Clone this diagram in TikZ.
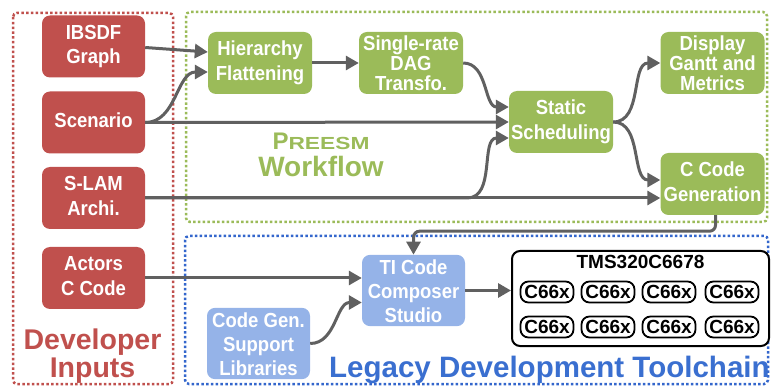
\documentclass[tikz,border=0pt]{standalone}
\usepackage{fontspec}
\setmainfont{Liberation Sans}
\usetikzlibrary{arrows.meta}
\definecolor{dred}{HTML}{C0504D}
\definecolor{dgreen}{HTML}{9BBB59}
\definecolor{lblue}{HTML}{95B3E8}
\definecolor{tblue}{HTML}{3A6FD0}
\definecolor{dblue}{HTML}{3366CC}
\definecolor{agray}{HTML}{606060}
\newcommand\stxt[1]{\scalebox{1}[1.1]{\begin{tabular}{@{}c@{}}#1\end{tabular}}}
\newcommand\stxtt[1]{\raisebox{-3pt}[\height][\depth]{\stxt{#1}}}
\tikzset{
  box/.style={rounded corners=8pt, text=white, align=center, inner sep=0pt,
    font=\bfseries\fontsize{18.5}{22.7}\selectfont},
  redn/.style={box, fill=dred, minimum width=103pt, minimum height=62pt},
  grn/.style={box, fill=dgreen, minimum width=104pt, minimum height=62pt},
  grn3/.style={grn, font=\bfseries\fontsize{18.5}{16.8}\selectfont},
  blun/.style={box, fill=lblue, minimum width=103pt, minimum height=71pt,
    font=\bfseries\fontsize{18.5}{21.6}\selectfont},
  arr/.style={draw=agray, line width=3pt, -{Triangle[length=13pt,width=14pt]}},
  dotbox/.style={line width=2.5pt, dash pattern=on 2.5pt off 2.3pt, rounded corners=4pt},
  core/.style={draw, line width=1.8pt, rounded corners=8pt, minimum width=53pt, minimum height=21pt,
    inner sep=0pt, font=\bfseries\fontsize{19}{19}\selectfont},
  lbl/.style={inner sep=0pt, font=\bfseries},
}
\begin{document}
\begin{tikzpicture}[x=1pt,y=-1pt]
\useasboundingbox (0,0) rectangle (771,387);
% dotted frames
\draw[dotbox, draw=dred] (13,13) rectangle (173,384);
\draw[dotbox, draw=dgreen] (186,12) rectangle (767,222);
\draw[dotbox, draw=dblue] (185,236) rectangle (768,384);
% red inputs
\node[redn] (ibsdf) at (93.5,46.5) {\stxt{IBSDF\\Graph}};
\node[redn] (scen) at (93.5,122.5) {\stxt{Scenario}};
\node[redn] (slam) at (93.5,198) {\stxt{S-LAM\\Archi.}};
\node[redn] (act) at (93.5,278) {\stxt{Actors\\C Code}};
% green workflow
\node[grn] (hier) at (260,63) {\stxt{Hierarchy\\Flattening}};
\node[grn3] (sr) at (411,63) {\stxtt{Single-rate\\DAG\\Transfo.}};
\node[grn] (ss) at (561,122) {\stxt{Static\\Scheduling}};
\node[grn3] (disp) at (712.5,63) {\stxtt{Display\\Gantt and\\Metrics}};
\node[grn] (ccg) at (712.5,184) {\stxt{C Code\\Generation}};
% blue toolchain
\node[blun] (ti) at (413.5,290.5) {\stxtt{TI Code\\Composer\\Studio}};
\node[blun] (cgs) at (258.5,343.5) {\stxtt{Code Gen.\\Support\\Libraries}};
\node[draw, line width=2pt, rounded corners=8pt, minimum width=257pt, minimum height=95pt, fill=white] (tms) at (640.5,298.5) {};
\node[font=\bfseries\fontsize{19}{19}\selectfont, inner sep=0pt] (tmst) at (640.5,262) {TMS320C6678};
\node[core] (c1) at (547,292) {C66x};
\node[core] (c2) at (608,292) {C66x};
\node[core] (c3) at (669,292) {C66x};
\node[core] (c4) at (732,292) {C66x};
\node[core] (c5) at (547,327) {C66x};
\node[core] (c6) at (608,327) {C66x};
\node[core] (c7) at (669,327) {C66x};
\node[core] (c8) at (732,327) {C66x};
% labels
\node[lbl, anchor=base, text=dred, font=\bfseries\fontsize{28.5}{28.5}\selectfont] (dev1) at (92.5,349) {Developer};
\node[lbl, anchor=base, text=dred, font=\bfseries\fontsize{28.5}{28.5}\selectfont] (dev2) at (92.5,377.5) {Inputs};
\node[lbl, anchor=base, text=dgreen] (pr1) at (321,150) {\fontsize{24}{24}\selectfont P\scalebox{1.3}[1]{\fontsize{17.5}{17.5}\selectfont REESM}};
\node[lbl, anchor=base, text=dgreen, font=\bfseries\fontsize{28}{28}\selectfont] (pr2) at (321,177) {Workflow};
\node[lbl, anchor=base west, text=tblue, font=\bfseries\fontsize{29.5}{29.5}\selectfont] (leg) at (329,377) {Legacy Development Toolchain};
% connectors
\draw[arr] ([yshift=-1pt]ibsdf.east) -- ([yshift=11pt]hier.west);
\draw[arr] (scen.east) to[out=0,in=180] ([yshift=-9pt]hier.west);
\draw[arr] (scen.east) -- (ss.west);
\draw[arr] (hier.east) -- (sr.west);
\draw[arr] (sr.east) to[out=0,in=180] ([yshift=15pt]ss.west);
\draw[arr] (slam.east) -- (ccg.west |- slam.east) ;
\draw[arr] (slam.east) -- ++(322,0) to[out=0,in=180] ([yshift=-16pt]ss.west);
\draw[arr] (ss.east) to[out=0,in=180] (disp.west);
\draw[arr] (ss.east) to[out=0,in=180] ([yshift=4pt]ccg.west);
\draw[arr, rounded corners=6pt] ([xshift=3pt]ccg.south) -- ++(0,16) -| (ti.north);
\draw[arr] (act.east) -- (ti.west |- act.east);
\draw[arr] (cgs.east) to[out=0,in=180] ([yshift=-12pt]ti.west);
\draw[arr] (ti.east) -- (tms.west |- ti.east);
\end{tikzpicture}
\end{document}
